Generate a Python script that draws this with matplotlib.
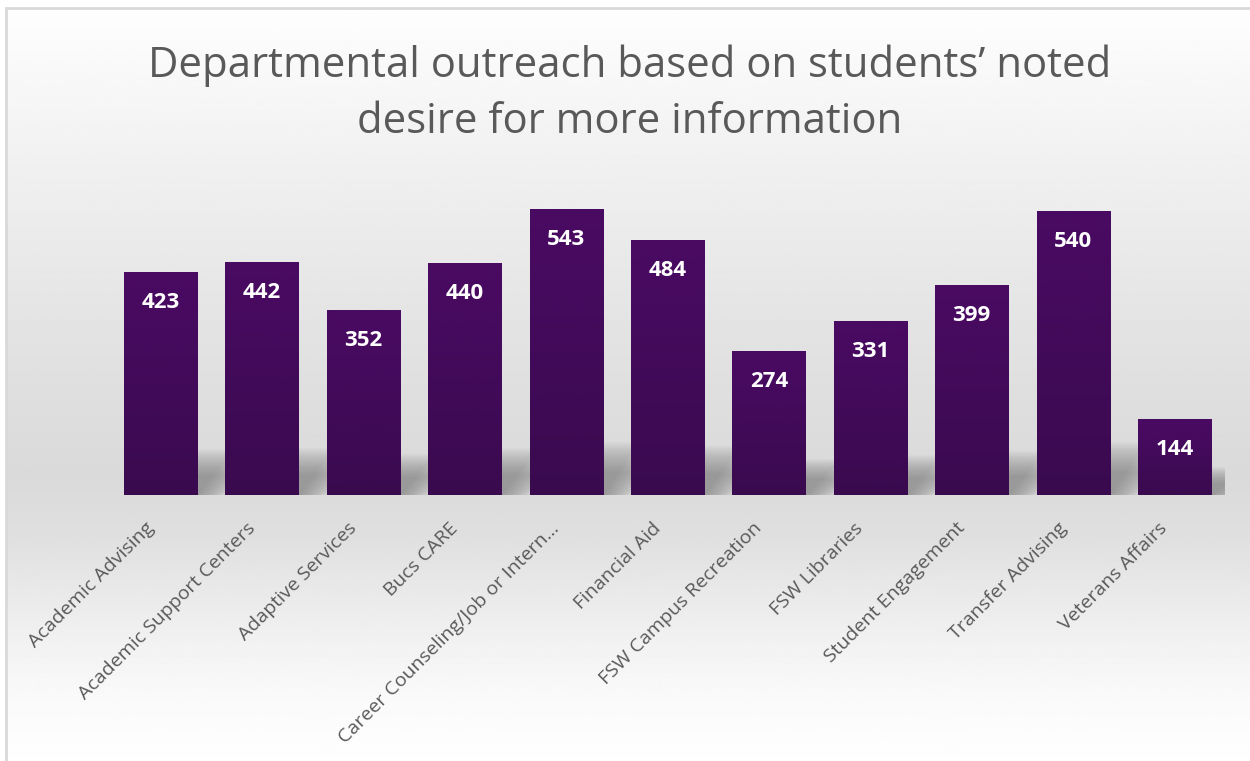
import matplotlib
matplotlib.use("Agg")
import matplotlib.pyplot as plt
import numpy as np
from matplotlib.patches import Polygon, Rectangle
from matplotlib.colors import LinearSegmentedColormap
from matplotlib.transforms import ScaledTranslation

categories = ["Academic Advising", "Academic Support Centers", "Adaptive Services",
              "Bucs CARE", "Career Counseling/Job or Intern...", "Financial Aid",
              "FSW Campus Recreation", "FSW Libraries", "Student Engagement",
              "Transfer Advising", "Veterans Affairs"]
values = [423, 442, 352, 440, 543, 484, 274, 331, 399, 540, 144]
title = "Departmental outreach based on students\u2019 noted\ndesire for more information"

W, H = 1250, 761
fig = plt.figure(figsize=(12.5, 7.61), dpi=100)
fig.patch.set_facecolor("white")

# background gradient panel
bg = fig.add_axes([6 / W, 0, 1 - 6 / W, 1 - 8 / H], zorder=0)
stops = [(0.0, 0.995), (0.255, 0.93), (0.5, 0.875), (0.62, 0.853), (0.7, 0.875),
         (0.853, 0.953), (0.92, 0.98), (1.0, 0.997)]
yy = np.linspace(0, 1, 400)
gv = np.interp(yy, [s[0] for s in stops], [s[1] for s in stops])
img = np.repeat(gv[:, None], 2, axis=1)
bg.imshow(img, cmap="gray", vmin=0, vmax=1, aspect="auto", extent=[0, 1, 1, 0])
bg.set_axis_off()

fig.patches.append(Rectangle((6 / W, -0.02), 1.1, 1 - 8 / H + 0.02, transform=fig.transFigure,
                             fill=False, edgecolor="#d9d9d9", linewidth=2, zorder=5))

left, right = 109.8, 1225.2
bottom_px, top_px = 495, 179
ax = fig.add_axes([left / W, 1 - bottom_px / H, (right - left) / W, (bottom_px - top_px) / H], zorder=1)
ax.patch.set_alpha(0)
ax.set_xlim(-0.5, len(values) - 0.5)
ax.set_ylim(0, 600)
for s in ax.spines.values():
    s.set_visible(False)
ax.set_yticks([])

x = np.arange(len(values))
width = 0.72

# soft shadows behind bars
for xi, v in zip(x, values):
    hs = 35 + 0.12 * v
    x0, x1 = xi - width / 2, xi + width / 2
    dx = 0.36
    for k in range(12):
        g = k * 0.025
        poly = Polygon([(x0 + 0.05, 0), (x1 + 0.02 + g, 0), (x1 + dx + g, hs * (1 - k * 0.05)),
                        (x0 + dx + 0.05, hs * (1 - k * 0.05))],
                       closed=True, facecolor="#6e6e6e", edgecolor="none", alpha=0.065, zorder=1)
        ax.add_patch(poly)

bars = ax.bar(x, values, width=width, color="#430b5a", zorder=2)
cmap = LinearSegmentedColormap.from_list("pur", ["#3a0a4f", "#4a0a63"])
grad = np.linspace(1, 0, 100)[:, None]
for b, v in zip(bars, values):
    x0 = b.get_x()
    im = ax.imshow(grad, cmap=cmap, aspect="auto", extent=[x0, x0 + b.get_width(), 0, v], zorder=3)
    im.set_clip_path(b)
ax.set_xlim(-0.5, len(values) - 0.5)
ax.set_ylim(0, 600)

for xi, v in zip(x, values):
    ax.annotate(str(v), (xi, v), xytext=(0, -22), textcoords="offset points",
                ha="center", va="center", color="white", fontsize=16,
                fontweight="bold", family="Open Sans", zorder=4)

ax.set_xticks(x)
ax.set_xticklabels(categories, rotation=45, ha="right", va="center", rotation_mode="anchor",
                   color="#595959", fontsize=14, family="Open Sans")
ax.tick_params(axis="x", length=0, pad=22)
for lbl in ax.get_xticklabels():
    lbl.set_transform(lbl.get_transform() + ScaledTranslation(-7 / 72, 0, fig.dpi_scale_trans))

fig.text(0.504, 1 - 94 / H, title, ha="center", va="center", fontsize=30.2, color="#595959",
         family="Open Sans", linespacing=1.45)

fig.savefig("out.png", dpi=100)
